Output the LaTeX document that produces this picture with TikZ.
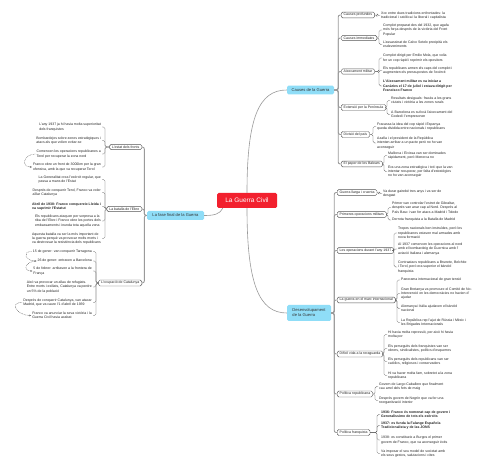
\documentclass[tikz,border=0pt]{standalone}
\usepackage{fontspec}
\setmainfont{Liberation Sans}
\usetikzlibrary{arrows.meta}
\definecolor{mainblue}{HTML}{8FDDF7}
\definecolor{rootred}{HTML}{F2202E}
\definecolor{linegray}{HTML}{9A9A9A}
\definecolor{darkline}{HTML}{555555}
\begin{document}
\begin{tikzpicture}[x=1pt,y=-1pt,
  leaf/.style={font=\fontsize{3.5}{4.3}\selectfont, align=left, inner xsep=1pt, inner ysep=0pt, text=black!85},
  rleaf/.style={leaf, anchor=west},
  lleaf/.style={leaf, anchor=east},
  subbox/.style={draw=darkline, line width=0.4pt, rounded corners=1.5pt, fill=white, font=\fontsize{3.5}{4.3}\selectfont, inner xsep=2.5pt, inner ysep=1.3pt, text=black!85},
  mainbox/.style={fill=mainblue, rounded corners=1.5pt, font=\fontsize{4.1}{5}\selectfont, inner xsep=3pt, inner ysep=2pt, text=black!80, align=left},
  rootbox/.style={fill=rootred, rounded corners=1.5pt, font=\fontsize{6.5}{8}\selectfont, text=white, minimum width=60pt, minimum height=15pt},
  trunk/.style={draw=linegray, line width=0.9pt, rounded corners=2pt},
  twig/.style={draw=darkline, line width=0.35pt, rounded corners=1.5pt},
  maincurve/.style={draw=linegray, line width=0.6pt},
  dasharc/.style={draw=darkline, line width=0.35pt, dash pattern=on 0.8pt off 0.8pt, -{Stealth[length=2pt,width=1.6pt]}}
]
\fill[white] (0,0) rectangle (480,468);
\useasboundingbox (0,0) rectangle (480,468);

% ---------- main nodes ----------
\node[rootbox] (root) at (247,200.5) {La Guerra Civil};
\node[mainbox, minimum width=47pt, minimum height=8.6pt] (causes) at (310.5,90) {Causes de la Guerra};
\node[mainbox, minimum width=57pt, minimum height=9pt] (fase) at (175.5,215.5) {La fase final de la Guerra};
\node[mainbox, minimum width=44pt, minimum height=16pt] (desenv) at (309,313) {Desenvolupament\\de la Guerra};

\draw[maincurve] (root.north) .. controls +(0,-75) and +(-28,0) .. (causes.west);
\draw[maincurve] (root.south) .. controls +(0,75) and +(-28,0) .. (desenv.west);
\draw[maincurve] ([xshift=6pt]root.south west) .. controls +(-3,6) and +(10,0) .. (fase.east);

% ---------- Causes ----------
\node[subbox, anchor=west] (cp) at (341,15) {Causes profundes};
\node[subbox, anchor=west] (ci) at (341,38) {Causes immediates};
\node[subbox, anchor=west] (am) at (341,71.5) {Aixecament militar};
\node[subbox, anchor=west] (ep) at (341,107.5) {Extensió per la Península};
\node[subbox, anchor=west] (dp) at (341,134.5) {Divisió del país};
\node[subbox, anchor=west] (pb) at (341,164) {El paper de les Balears};
\foreach \c in {cp,ci,am,ep,dp,pb}{\draw[trunk] (causes.east) -- ++(4,0) |- (\c.west);}

\node[rleaf] (cp1) at (380,15.5) {Xoc entre dues tradicions enfrontades: la\\tradicional i catòlica i la liberal i capitalista};
\node[rleaf] (ci1) at (382,30) {Complot preparat des del 1932, que agafa\\més força després de la victòria del Front\\Popular};
\node[rleaf] (ci2) at (382,44.5) {L'assassinat de Calvo Sotelo precipità els\\esdeveniments};
\node[rleaf] (am1) at (382,58) {Complot dirigit per Emilio Mola, que volia\\fer un cop ràpid i reprimir els opositors};
\node[rleaf] (am2) at (382,70.5) {Els republicans armen els caps del complot i\\augmenten els pressupostos de l'exèrcit};
\node[rleaf, font=\fontsize{3.5}{4.3}\selectfont\bfseries] (am3) at (382,86) {L'Aixecament militar es va iniciar a\\Canàries el 17 de juliol i estava dirigit per\\Francisco Franco};
\node[rleaf] (ep1) at (390,100.5) {Resultats desiguals: fracàs a les grans\\ciutats i victòria a les zones rurals};
\node[rleaf] (ep2) at (390,114.5) {A Barcelona es sufocà l'aixecament del\\Goded i l'empresonen};
\node[rleaf] (dp1) at (376,126.5) {Fracassa la idea del cop ràpid i Espanya\\queda dividida entre nacionals i republicans};
\node[rleaf] (dp2) at (376,143) {Azaña i el president de la República\\intenten arribar a un pacte però no ho van\\aconseguir};
\node[rleaf] (pb1) at (387,155.5) {Mallorca i Eivissa van ser dominades\\ràpidament, però Menorca no};
\node[rleaf] (pb2) at (387,171.5) {Era una zona estratègica i tot i que la van\\intentar recuperar, per falta d'estratègies\\no ho van aconseguir};
\foreach \p/\l in {cp/cp1,ci/ci1,ci/ci2,am/am1,am/am2,am/am3,ep/ep1,ep/ep2,dp/dp1,dp/dp2,pb/pb1,pb/pb2}{
  \draw[twig] (\p.east) -| ([xshift=-3pt]\l.west) -- (\l.west);}

% ---------- Desenvolupament ----------
\node[subbox, anchor=west] (gl) at (337,192.5) {Guerra llarga i cruenta};
\node[subbox, anchor=west] (po) at (337,214.5) {Primeres operacions militars};
\node[subbox, anchor=west] (op) at (337,250.5) {Les operacions durant l'any 1937};
\node[subbox, anchor=west] (gi) at (337,300) {La guerra en el marc internacional};
\node[subbox, anchor=west] (dv) at (337,354) {Difícil vida a la reraguarda};
\node[subbox, anchor=west] (pr) at (337,394) {Política republicana};
\node[subbox, anchor=west] (pf) at (337,432.5) {Política franquista};
\foreach \c in {gl,po,op,gi,dv,pr,pf}{\draw[trunk] (desenv.east) -- ++(3,0) |- (\c.west);}

\node[rleaf] (gl1) at (382,193.5) {Va durar gairebé tres anys i va ser de\\desgast};
\node[rleaf] (po1) at (391,207.5) {Primer van controlar l'estret de Gibraltar,\\després van anar cap al Nord. Després al\\País Basc i van fer atacs a Madrid i Toledo};
\node[rleaf] (po2) at (391,220) {Derrota franquista a la Batalla de Madrid};
\node[rleaf] (op1) at (397,233) {Tropes nacionals ben instruïdes, però les\\republicanes estaven mal armades amb\\nova formació};
\node[rleaf] (op2) at (397,249) {Al 1937 comencen les operacions al nord\\amb el bombardeig de Guernica amb l'\\aviació Italiana i alemanya};
\node[rleaf] (op3) at (397,267) {Contraatacs republicans a Brunete, Belchite\\i Terol, però era superior el bàndol\\franquista};
\node[rleaf] (gi1) at (400,280) {Panorama internacional de gran tensió};
\node[rleaf] (gi2) at (400,293.5) {Gran Bretanya va promoure el Comitè de No-\\Intervenció on les democràcies no havien d'\\ajudar};
\node[rleaf] (gi3) at (400,308.5) {Alemanya i Itàlia ajudaven el bàndol\\nacional};
\node[rleaf] (gi4) at (400,322.5) {La República rep l'ajut de Rússia i Mèxic i\\les Brigades Internacionals};
\node[rleaf] (dv1) at (387,334.5) {Hi havia molta repressió, per això hi havia\\molta por};
\node[rleaf] (dv2) at (387,348.5) {Els perseguits dels franquistes van ser\\obrers, sindicalistes, polítics d'esquerres};
\node[rleaf] (dv3) at (387,361.5) {Els perseguits dels republicans van ser\\catòlics, religiosos i conservadors};
\node[rleaf] (dv4) at (387,375.5) {Hi va haver molta fam, sobretot a la zona\\republicana};
\node[rleaf] (pr1) at (378,386.5) {Govern de Largo Caballero que finalment\\cau arrel dels fets de maig};
\node[rleaf] (pr2) at (378,400.5) {Després govern de Negrín que va fer una\\reorganització interior};
\node[rleaf, font=\fontsize{3.5}{4.3}\selectfont\bfseries] (pf1) at (380,414.5) {1936: Franco és nomenat cap de govern i\\Generalíssimo de tots els exèrcits};
\node[rleaf, font=\fontsize{3.5}{4.3}\selectfont\bfseries] (pf2) at (380,425.5) {1937: es funda la Falange Española\\Tradicionalista y de las JONS};
\node[rleaf] (pf3) at (380,440) {1938: es constitueix a Burgos el primer\\govern de Franco, que va aconseguir èxits};
\node[rleaf] (pf4) at (380,453.5) {Va imposar el seu model de societat amb\\els seus gestos, salutacions i cites};
\foreach \p/\l in {gl/gl1,po/po1,po/po2,op/op1,op/op2,op/op3,gi/gi1,gi/gi2,gi/gi3,gi/gi4,dv/dv1,dv/dv2,dv/dv3,dv/dv4,pr/pr1,pr/pr2,pf/pf1,pf/pf2,pf/pf3,pf/pf4}{
  \draw[twig] (\p.east) -| ([xshift=-3pt]\l.west) -- (\l.west);}

% ---------- La fase final ----------
\node[subbox, anchor=east] (ef) at (142,147) {L'estat dels fronts};
\node[subbox, anchor=east] (be) at (142,209) {La batalla de l'Ebre};
\node[subbox, anchor=east] (oc) at (142,283) {L'ocupació de Catalunya};
\foreach \c in {ef,be,oc}{\draw[trunk] (fase.west) -- ++(-2.5,0) |- (\c.east);}

\node[lleaf] (ef1) at (102,127) {L'any 1937 ja hi havia molta superioritat\\dels franquistes};
\node[lleaf] (ef2) at (102,140.5) {Bombardejos sobre zones estratègiques i\\atacs als que volien evitar-se};
\node[lleaf] (ef3) at (102,154) {Comencen les operacions republicanes a\\Terol per recuperar la zona nord};
\node[lleaf] (ef4) at (102,167) {Franco obre un front de 3000km per la gran\\ofensiva, amb la que va recuperar Terol};
\node[lleaf] (be1) at (102,179.5) {La Generalitat crea l'exèrcit regular, que\\passa a mans de l'Estat};
\node[lleaf] (be2) at (102,192.5) {Després de conquerir Terol, Franco va voler\\aïllar Catalunya};
\node[lleaf, font=\fontsize{3.5}{4.3}\selectfont\bfseries] (be3) at (102,206.5) {Abril de 1938: Franco conquereix Lleida i\\va suprimir l'Estatut};
\node[lleaf] (be4) at (102,221) {Els republicans ataquen per sorpresa a la\\riba de l'Ebre i Franco obre les portes dels\\embassaments i inunda tota aquella zona};
\node[lleaf] (be5) at (102,238.5) {Aquesta batalla va ser la més important de\\la guerra perquè va provocar molts morts i\\va destrossar la resistència dels republicans};
\node[lleaf] (oc1) at (93,251.5) {15 de gener: van conquerir Tarragona};
\node[lleaf] (oc2) at (93,261) {26 de gener: entraven a Barcelona};
\node[lleaf] (oc3) at (93,271) {5 de febrer: arribaven a la frontera de\\França};
\node[lleaf] (oc4) at (93,287) {Això va provocar un allau de refugiats.\\Entre morts i exiliats, Catalunya va perdre\\un 5\% de la població};
\node[lleaf] (oc5) at (93,302.5) {Després de conquerir Catalunya, van atacar\\Madrid, que va caure l'1 d'abril de 1939};
\node[lleaf] (oc6) at (93,315.5) {Franco va anunciar la seva victòria i la\\Guerra Civil havia acabat};
\foreach \p/\l in {ef/ef1,ef/ef2,ef/ef3,ef/ef4,be/be1,be/be2,be/be3,be/be4,be/be5,oc/oc1,oc/oc2,oc/oc3,oc/oc4,oc/oc5,oc/oc6}{
  \draw[twig] (\p.west) -| ([xshift=3pt]\l.east) -- (\l.east);}

\draw[dasharc] (ef3.west) to[out=180,in=180,looseness=2.2] (ef4.west);
\draw[dasharc] (oc1.west) to[out=180,in=180,looseness=2.5] (oc2.west);
\draw[dasharc] (oc2.west) to[out=180,in=180,looseness=2.5] (oc3.west);
\draw[dasharc] (oc5.west) to[out=180,in=180,looseness=2.2] (oc6.west);
\end{tikzpicture}
\end{document}
